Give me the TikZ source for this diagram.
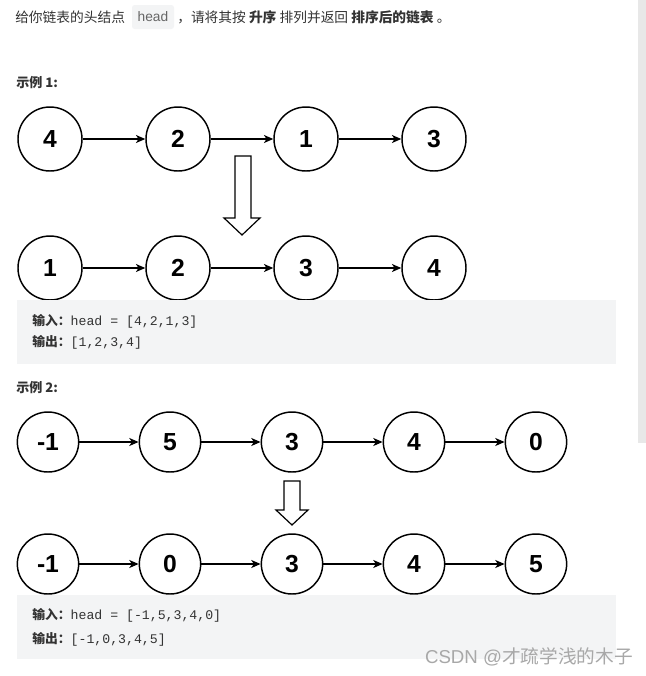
\documentclass[tikz,border=0pt]{standalone}
\usepackage{fontspec}
\setmainfont{Noto Sans CJK SC}
\newfontfamily\cjkfont{Noto Sans CJK SC}
\newfontfamily\numfont{Liberation Sans}
\newfontfamily\codefont{Liberation Mono}
\usetikzlibrary{shapes.geometric,arrows.meta}
\definecolor{txt}{HTML}{333333}
\definecolor{codebg}{HTML}{F3F4F5}
\definecolor{barc}{HTML}{E8E8E8}
\definecolor{wm}{HTML}{A8A8A8}
\tikzset{
  lnode/.style={ellipse,draw=black,line width=1.1pt,inner sep=0pt,minimum width=48pt,minimum height=48pt,font=\numfont\bfseries\fontsize{18.5}{18}\selectfont},
  lnodeb/.style={lnode,minimum width=46pt,minimum height=45pt},
  link/.style={line width=1.1pt,-{Stealth[length=7pt,width=6pt,inset=2pt]}},
  hollow/.style={draw=black,line width=0.9pt,fill=white,line join=miter},
  para/.style={anchor=west,inner sep=0pt,text=txt,font=\cjkfont\fontsize{10.3}{12}\selectfont},
  codeline/.style={anchor=west,inner sep=0pt,text=txt,font=\cjkfont\fontsize{9.6}{12}\selectfont},
}
\newcommand{\cd}[1]{{\codefont\fontsize{9.9}{12}\selectfont #1}}
\begin{document}
\begin{tikzpicture}[x=0.75pt,y=-0.75pt]
\useasboundingbox (0,0) rectangle (646,676);
\fill[white] (0,0) rectangle (646,676);
% scrollbar
\fill[barc] (638,0) rectangle (646,443);
% title
\node[para] (t1) at (15,17) {给你链表的头结点};
\fill[codebg,rounded corners=2pt] (132,5) rectangle (174,29);
\node[anchor=center,inner sep=0pt,text=black!60,font=\numfont\fontsize{10.3}{12}\selectfont] (hd) at (153,17) {head};
\node[para] (t2) at (177,17) {，请将其按 \textbf{升序} 排列并返回 \textbf{排序后的链表} 。};
% example 1
\node[para,font=\cjkfont\bfseries\fontsize{9.8}{12}\selectfont] (ex1) at (16,83) {示例 1:};
\node[lnode] (a1) at (50,139) {4};
\node[lnode] (a2) at (178,139) {2};
\node[lnode] (a3) at (306,139) {1};
\node[lnode] (a4) at (434,139) {3};
\draw[link] (a1) -- (a2);
\draw[link] (a2) -- (a3);
\draw[link] (a3) -- (a4);
\draw[hollow] (235,156) -- (251,156) -- (251,218) -- (260,218) -- (242,235) -- (224,218) -- (235,218) -- cycle;
\node[lnode] (b1) at (50,268) {1};
\node[lnode] (b2) at (178,268) {2};
\node[lnode] (b3) at (306,268) {3};
\node[lnode] (b4) at (434,268) {4};
\draw[link] (b1) -- (b2);
\draw[link] (b2) -- (b3);
\draw[link] (b3) -- (b4);
\fill[codebg] (17,300) rectangle (616,364);
\node[codeline] (in1) at (32,321) {\textbf{输入：}\cd{head = [4,2,1,3]}};
\node[codeline] (out1) at (32,342) {\textbf{输出：}\cd{[1,2,3,4]}};
% example 2
\node[para,font=\cjkfont\bfseries\fontsize{9.8}{12}\selectfont] (ex2) at (16,388) {示例 2:};
\node[lnodeb] (c1) at (48,442) {-1};
\node[lnodeb] (c2) at (170,442) {5};
\node[lnodeb] (c3) at (292,442) {3};
\node[lnodeb] (c4) at (414,442) {4};
\node[lnodeb] (c5) at (536,442) {0};
\draw[link] (c1) -- (c2);
\draw[link] (c2) -- (c3);
\draw[link] (c3) -- (c4);
\draw[link] (c4) -- (c5);
\draw[hollow] (284,481) -- (300,481) -- (300,510) -- (308,510) -- (292,525) -- (276,510) -- (284,510) -- cycle;
\node[lnodeb] (d1) at (48,564) {-1};
\node[lnodeb] (d2) at (170,564) {0};
\node[lnodeb] (d3) at (292,564) {3};
\node[lnodeb] (d4) at (414,564) {4};
\node[lnodeb] (d5) at (536,564) {5};
\draw[link] (d1) -- (d2);
\draw[link] (d2) -- (d3);
\draw[link] (d3) -- (d4);
\draw[link] (d4) -- (d5);
\fill[codebg] (17,595) rectangle (616,659);
\node[codeline] (in2) at (32,615) {\textbf{输入：}\cd{head = [-1,5,3,4,0]}};
\node[codeline] (out2) at (32,639) {\textbf{输出：}\cd{[-1,0,3,4,5]}};
% watermark
\node[anchor=east,inner sep=0pt,text=wm,font=\fontsize{14}{16}\selectfont] (wmk) at (633,657) {{\numfont CSDN @}才疏学浅的木子};
\end{tikzpicture}
\end{document}
